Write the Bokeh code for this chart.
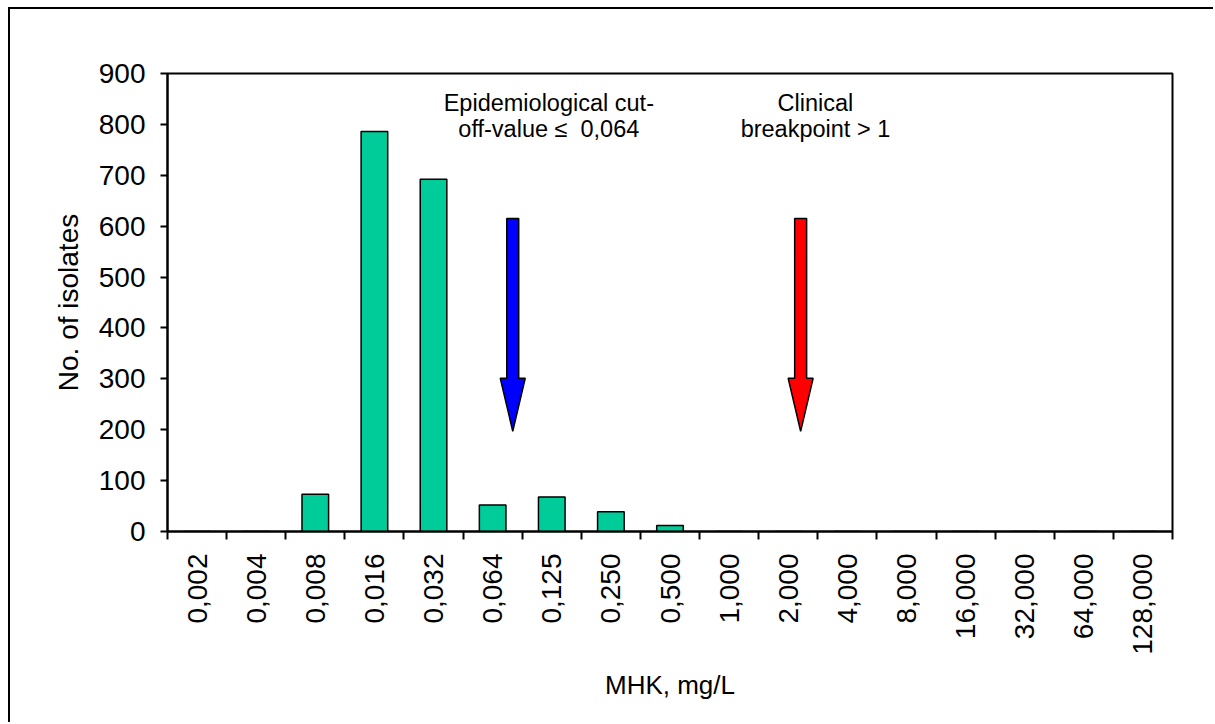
import math
from bokeh.plotting import figure
from bokeh.models import FixedTicker, Range1d, ColumnDataSource
from bokeh.core.properties import value
from bokeh.embed import file_html
from bokeh.resources import INLINE

# ---- data ----
mic_labels = ["0,002", "0,004", "0,008", "0,016", "0,032", "0,064", "0,125",
              "0,250", "0,500", "1,000", "2,000", "4,000", "8,000", "16,000",
              "32,000", "64,000", "128,000"]
isolates = [0, 0, 73, 786, 692, 52, 68, 39, 12, 0, 0, 0, 0, 0, 0, 0, 0]
y_ticks = [0, 100, 200, 300, 400, 500, 600, 700, 800, 900]

arrow_x = [5.34, 10.21]
arrow_top = [615, 615]
arrow_head = [301, 301]
arrow_tip = [197, 197]
arrow_colors = ["#0000FF", "#FF0000"]

note_x = [5.95, 10.46]
note_line1 = ["Epidemiological cut-", "Clinical"]
note_line2 = ["off-value \u2264\u00a0\u00a00,064", "breakpoint > 1"]
note_y1 = [843, 843]
note_y2 = [791, 791]

FONT = "Liberation Sans"

p = figure(width=1205, height=715, output_backend="svg", toolbar_location=None,
           x_range=Range1d(-0.5, len(mic_labels) - 0.5), y_range=Range1d(0, 900),
           min_border_left=157, min_border_top=64, min_border_right=43,
           min_border_bottom=193, background_fill_color="white",
           border_fill_color="white",
           styles={"margin-left": "8px", "margin-top": "7px",
                   "border-top": "2px solid black", "border-left": "2px solid black"})

p.outline_line_color = "black"
p.outline_line_width = 2
p.xgrid.visible = False
p.ygrid.visible = False

xs = list(range(len(mic_labels)))
src = ColumnDataSource(dict(x=xs, top=isolates))
p.vbar(x="x", top="top", width=0.45, bottom=0, source=src,
       fill_color="#00CC99", line_color="black", line_width=1.5)

# arrows
axs, ays = [], []
sw, hw = 0.101, 0.211
for x, t, h, tip in zip(arrow_x, arrow_top, arrow_head, arrow_tip):
    axs.append([x - sw, x + sw, x + sw, x + hw, x, x - hw, x - sw])
    ays.append([t, t, h, h, tip, h, h])
p.patches(xs=axs, ys=ays, fill_color=arrow_colors, line_color="black", line_width=1.5)

# notes
p.text(x=note_x, y=note_y1, text=note_line1, text_align="center",
       text_baseline="alphabetic", text_font=value(FONT), text_font_size="23.5px",
       text_color="black")
p.text(x=note_x, y=note_y2, text=note_line2, text_align="center",
       text_baseline="alphabetic", text_font=value(FONT), text_font_size="23.5px",
       text_color="black")

# x axis
xa = p.xaxis[0]
xa.ticker = FixedTicker(ticks=xs, minor_ticks=[i - 0.5 for i in range(len(mic_labels) + 1)])
xa.major_label_overrides = {i: lab for i, lab in enumerate(mic_labels)}
xa.major_label_orientation = math.pi / 2
xa.major_tick_line_color = None
xa.major_tick_out = 8
xa.major_tick_in = 0
xa.minor_tick_out = 8
xa.minor_tick_in = 0
xa.minor_tick_line_color = "black"
xa.minor_tick_line_width = 2
xa.axis_line_color = "black"
xa.axis_line_width = 2
xa.major_label_standoff = 14
xa.major_label_text_font = FONT
xa.major_label_text_font_size = "28px"
xa.major_label_text_color = "black"
xa.axis_label = "MHK, mg/L"
xa.axis_label_text_font = FONT
xa.axis_label_text_font_size = "26px"
xa.axis_label_text_font_style = "normal"
xa.axis_label_text_color = "black"
xa.axis_label_standoff = 12

# y axis
ya = p.yaxis[0]
ya.ticker = FixedTicker(ticks=y_ticks)
ya.major_tick_out = 7
ya.major_tick_in = 0
ya.major_tick_line_width = 2
ya.major_tick_line_color = "black"
ya.minor_tick_line_color = None
ya.axis_line_color = "black"
ya.axis_line_width = 2
ya.major_label_standoff = 15
ya.major_label_text_font = FONT
ya.major_label_text_font_size = "28px"
ya.major_label_text_color = "black"
ya.axis_label = "No. of isolates"
ya.axis_label_text_font = FONT
ya.axis_label_text_font_size = "28px"
ya.axis_label_text_font_style = "normal"
ya.axis_label_text_color = "black"
ya.axis_label_standoff = 12

open("out.html", "w").write(file_html(p, INLINE))
